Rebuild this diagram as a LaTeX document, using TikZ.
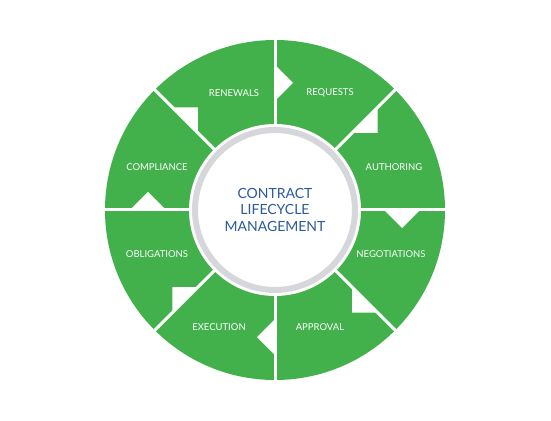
\documentclass[tikz,border=0pt]{standalone}
\usepackage{fontspec}
\setmainfont{Lato}
\definecolor{seggreen}{HTML}{42B14B}
\definecolor{ringgray}{HTML}{D6D7DB}
\definecolor{titleblue}{HTML}{2C5A9A}
\begin{document}
\begin{tikzpicture}[x=1pt,y=1pt,
  lbl/.style={text=white,font=\fontsize{9.5}{11}\selectfont,inner sep=0pt},
  gapline/.style={draw=white,line width=3pt},
  notchshape/.style={fill=white},
  title/.style={text=titleblue,font=\fontsize{14}{16.5}\selectfont,align=center,inner sep=0pt}]
\useasboundingbox (-275,-210) rectangle (276,210);
\fill[seggreen] (0,0) circle (170);
\foreach \a in {90,45,...,-225} {
  \draw[gapline] (\a:80) -- (\a:176);
  \fill[notchshape] (\a:109) -- ++(\a-45:25.46) -- (\a:145) -- cycle;
}
\fill[white] (0,0) circle (86);
\draw[ringgray,line width=6pt] (0,0) circle (80);
\node[title] (center) at (0,0.5) {CONTRACT\\LIFECYCLE\\MANAGEMENT};
\node[lbl] (renewals) at (-41,117) {RENEWALS};
\node[lbl] (requests) at (55,117) {REQUESTS};
\node[lbl] (authoring) at (119,43) {AUTHORING};
\node[lbl] (negotiations) at (116,-44) {NEGOTIATIONS};
\node[lbl] (approval) at (45,-117) {APPROVAL};
\node[lbl] (execution) at (-56,-117) {EXECUTION};
\node[lbl] (obligations) at (-118,-44) {OBLIGATIONS};
\node[lbl] (compliance) at (-118,43) {COMPLIANCE};
\end{tikzpicture}
\end{document}
